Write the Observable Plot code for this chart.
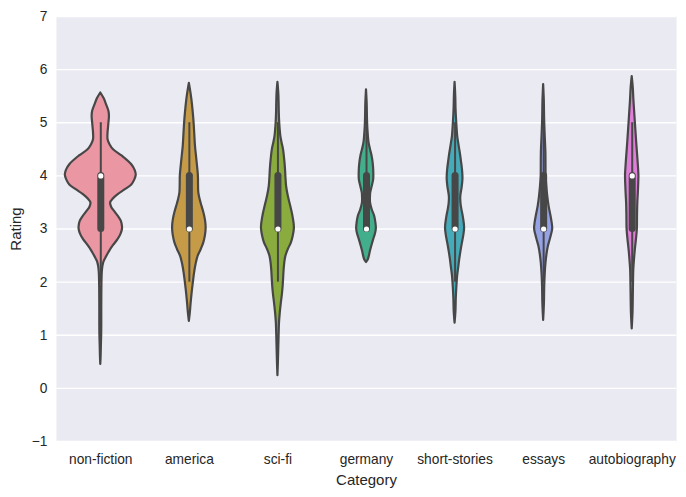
<!DOCTYPE html>
<html><head><meta charset="utf-8">
<script src="https://cdn.jsdelivr.net/npm/d3@7"></script>
<script src="https://cdn.jsdelivr.net/npm/@observablehq/plot@0.6"></script>
<style>
body{margin:0;background:#fff;}
svg [aria-label="x-axis label"], svg [aria-label="y-axis label"]{font-size:15px;}
</style>
</head><body><div id="chart"></div>
<script>
const categories = ["non-fiction","america","sci-fi","germany","short-stories","essays","autobiography"];
const colors = ["#ea96a3","#c59b48","#8aab3e","#42ae8c","#45aab9","#95a2e6","#e07fda"];
const yTicks = [-1,0,1,2,3,4,5,6,7];

// violin profiles: [rating, density (half-width)]
const nonFiction = [[5.56,0],[5.45,3.5],[5.34,5.8],[5.22,8.2],[5.12,8.8],[5.0,8.3],[4.9,7.8],[4.78,7.3],[4.68,7.4],[4.58,9.5],[4.49,13],[4.37,22],[4.21,31.5],[4.1,35],[4.01,36],[3.92,34.5],[3.83,31.5],[3.74,25],[3.65,18],[3.56,12.5],[3.49,10],[3.41,11],[3.33,14],[3.22,18.5],[3.14,21],[3.05,22],[2.99,22],[2.9,20.5],[2.8,17.5],[2.69,13],[2.58,9],[2.48,6],[2.39,3.5],[2.3,2.2],[2.2,1.6],[2.0,1.2],[1.5,1.0],[1.2,1.0],[1.0,0.9],[0.8,0.6],[0.6,0.35],[0.45,0]];
const america = [[5.74,0],[5.6,1.3],[5.43,2.6],[5.2,3.9],[5.0,4.8],[4.78,5.5],[4.56,6.2],[4.36,7.3],[4.18,8.3],[3.99,9.2],[3.84,9.3],[3.68,9.6],[3.55,11],[3.43,12.8],[3.3,14.8],[3.18,16.2],[3.08,16.9],[2.99,17],[2.87,16.3],[2.74,14.7],[2.61,12],[2.48,8.8],[2.33,6.8],[2.17,5.3],[1.98,4],[1.79,2.8],[1.6,1.8],[1.42,1.0],[1.26,0]];
const sciFi = [[5.76,0],[5.55,0.9],[5.37,1.2],[5.18,1.4],[5.0,1.8],[4.87,2.3],[4.74,3.0],[4.62,4.2],[4.49,5.7],[4.3,6.9],[4.12,7.7],[3.95,8.2],[3.8,8.8],[3.62,10.5],[3.43,13],[3.3,14.6],[3.18,15.8],[3.09,16.5],[3.0,16.7],[2.87,15.6],[2.74,13.7],[2.61,10.5],[2.48,8],[2.35,6.9],[2.23,6.3],[2.07,5.8],[1.92,5.3],[1.76,4.5],[1.61,3.5],[1.42,2.4],[1.23,1.6],[1.0,1.2],[0.79,0.9],[0.5,0.5],[0.24,0]];
const germany = [[5.62,0],[5.35,0.7],[5.06,1.0],[4.85,1.5],[4.62,2.6],[4.5,4],[4.37,5.7],[4.25,6.7],[4.12,7.3],[3.93,7.3],[3.8,5.8],[3.68,4.3],[3.58,4],[3.49,4.1],[3.36,5.8],[3.24,8.3],[3.12,9.5],[3.0,10],[2.9,9],[2.8,7.3],[2.69,5.6],[2.58,4],[2.48,2.8],[2.41,1.6],[2.37,0]];
const shortStories = [[5.76,0],[5.5,0.7],[5.25,1.0],[5.0,1.7],[4.74,2.7],[4.58,4],[4.43,5.3],[4.27,6.5],[4.12,7.5],[3.98,8],[3.93,8],[3.78,7.2],[3.61,5.8],[3.48,6],[3.36,7],[3.2,8.6],[3.02,9.7],[2.88,8.9],[2.74,7.5],[2.58,6],[2.42,4.7],[2.27,3.7],[2.11,2.6],[1.9,1.8],[1.67,1.2],[1.45,0.9],[1.23,0]];
const essays = [[5.72,0],[5.4,0.7],[5.06,1.0],[4.75,1.6],[4.43,2.3],[4.2,2.4],[3.99,2.5],[3.8,3.2],[3.61,4.2],[3.43,5.5],[3.24,7.5],[3.12,8.6],[3.0,9.2],[2.89,8],[2.78,6.4],[2.67,4.8],[2.52,3.4],[2.36,2.4],[2.15,1.6],[1.92,1.1],[1.6,0.8],[1.28,0]];
const autobiography = [[5.87,0],[5.65,1.1],[5.43,1.7],[5.2,2.5],[5.0,3.2],[4.78,4],[4.56,4.8],[4.34,5.7],[4.12,6.5],[4.0,6.8],[3.85,6.6],[3.67,6.2],[3.49,5.7],[3.25,5.4],[2.99,5.2],[2.8,4.3],[2.61,3.2],[2.42,2.3],[2.23,1.6],[1.98,1.3],[1.73,1.1],[1.42,0.8],[1.12,0]];

// inner box statistics
const whiskerLow  = [2,2,2,3,2,2,2];
const quartile1   = [3,3,3,3,3,3,3];
const median      = [4,3,3,3,3,3,4];
const quartile3   = [4,4,4,4,4,4,4];
const whiskerHigh = [5,5,5,5,5,5,5];

const profiles = [nonFiction, america, sciFi, germany, shortStories, essays, autobiography];
const maxDensity = 36;      // widest violin density
const maxHalfWidth = 0.4;   // seaborn width 0.8
const k = maxHalfWidth / maxDensity;
const idx = d3.range(categories.length);
const gray = "#474747";

const chart = Plot.plot({
  width: 686, height: 497,
  marginLeft: 56, marginTop: 16, marginRight: 10, marginBottom: 56,
  style: {fontFamily: "'Liberation Sans', Arial, sans-serif", fontSize: "13.75px", color: "#262626", background: "white"},
  x: {domain: [-0.5, categories.length - 0.5], ticks: idx, tickFormat: i => categories[i], tickSize: 0, tickPadding: 13,
      label: "Category", labelAnchor: "center", labelOffset: 43, labelArrow: "none"},
  y: {domain: [-1, 7], ticks: yTicks, tickFormat: d => d < 0 ? "\u2212" + Math.abs(d) : String(d), tickSize: 0, tickPadding: 9,
      label: "Rating", labelAnchor: "center", labelOffset: 46, labelArrow: "none"},
  marks: [
    Plot.frame({fill: "#eaeaf2", stroke: null}),
    Plot.gridY(yTicks, {stroke: "white", strokeOpacity: 1, strokeWidth: 1.3}),
    ...profiles.map((p, i) => Plot.areaX(p, {
      y: d => d[0], x1: d => i - d[1] * k, x2: d => i + d[1] * k,
      fill: colors[i], stroke: gray, strokeWidth: 2.2, curve: "catmull-rom"
    })),
    Plot.ruleX(idx, {x: i => i, y1: i => whiskerLow[i], y2: i => whiskerHigh[i], stroke: gray, strokeWidth: 2}),
    Plot.ruleX(idx, {x: i => i, y1: i => quartile1[i], y2: i => quartile3[i], stroke: gray, strokeWidth: 7, strokeLinecap: "round"}),
    Plot.dot(idx, {x: i => i, y: i => median[i], r: 2.6, fill: "white", stroke: null})
  ]
});
document.getElementById("chart").appendChild(chart);
</script>
</body></html>
